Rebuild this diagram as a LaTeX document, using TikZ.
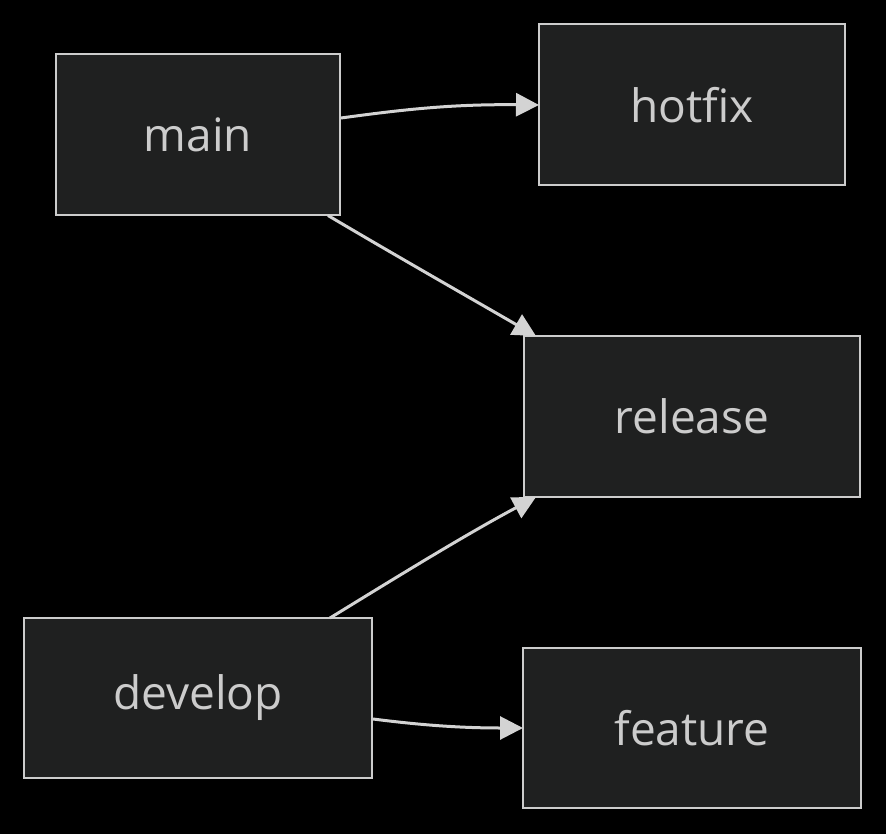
\documentclass[tikz,border=0pt]{standalone}
\usepackage{fontspec}
\setmainfont{Open Sans}
\usetikzlibrary{arrows.meta,calc}
\definecolor{boxfill}{HTML}{1F2020}
\definecolor{boxline}{HTML}{CCCCCC}
\definecolor{txt}{HTML}{CCCCCC}
\definecolor{edgecol}{HTML}{D3D3D3}
\begin{document}
\begin{tikzpicture}[x=1pt,y=-1pt,
  box/.style={draw=boxline,fill=boxfill,line width=2pt,outer sep=0pt,inner sep=0pt,
    text=txt,font=\fontsize{46}{52}\selectfont},
  conn/.style={draw=edgecol,line width=3pt,-{Triangle[length=23pt,width=23pt]}}]
\fill[black] (0,0) rectangle (886,834);
\useasboundingbox (0,0) rectangle (886,834);
\node[box,minimum width=284pt,minimum height=161pt] (main) at (198,135) {main};
\node[box,minimum width=306pt,minimum height=161pt] (hotfix) at (692,105) {hotfix};
\node[box,minimum width=336pt,minimum height=161pt] (release) at (692,416.5) {release};
\node[box,minimum width=348pt,minimum height=160pt] (develop) at (198,698) {develop};
\node[box,minimum width=338pt,minimum height=160pt] (feature) at (692,728) {feature};
\draw[conn] ($(main.east)+(1,-17)$) .. controls (400,110) and (450,104) .. (hotfix.west);
\draw[conn] ($(main.south east)+(-12,0)$) .. controls (400,258) and (465,295) .. ($(release.north west)+(12,0)$);
\draw[conn] ($(develop.north east)+(-42,0)$) .. controls (400,575) and (465,535) .. ($(release.south west)+(12,0)$);
\draw[conn] ($(develop.east)+(1,21)$) .. controls (420,725) and (460,728) .. (feature.west);
\end{tikzpicture}
\end{document}
